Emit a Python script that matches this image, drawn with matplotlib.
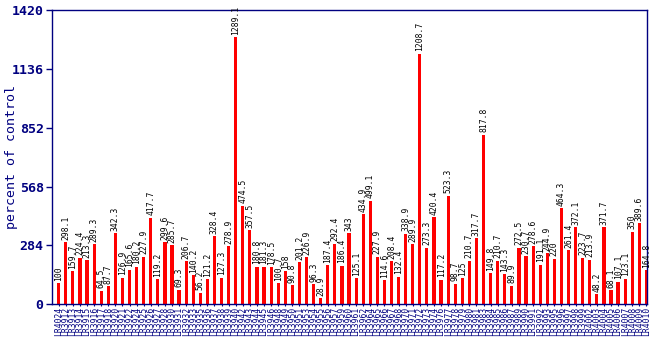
import matplotlib
matplotlib.use("Agg")
import matplotlib.pyplot as plt

values = [100, 298.1, 159.7, 224.4, 213.3, 289.3, 64.5, 87.7, 342.3, 126.9,
          165.6, 180.2, 227.9, 417.7, 119.2, 299.6, 285.7, 69.3, 206.7, 140.2,
          56.2, 121.2, 328.4, 127.3, 278.9, 1289.1,
          474.5, 357.5, 180.8, 181.3, 178.5, 100.7, 158, 90.8, 201.2, 226.9,
          96.3, 28.9, 187.4, 292.4, 186.4, 343, 125.1, 434.9, 499.1, 227.9,
          114.6, 208.4, 132.4, 338.9, 289.9, 1208.7, 273.3, 420.4,
          117.2, 523.3, 98.7, 125, 210.7, 317.7, 817.8, 149.8, 210.7, 143.3,
          89.9, 272.5, 230.7, 278.6, 191.1, 244.9, 220, 464.3, 261.4, 372.1,
          223.7, 213.9, 48.2, 371.7, 68.1, 107.1, 123.1, 350, 389.6, 164.8]

value_texts = ["100", "298.1", "159.7", "224.4", "213.3", "289.3", "64.5", "87.7", "342.3", "126.9",
               "165.6", "180.2", "227.9", "417.7", "119.2", "299.6", "285.7", "69.3", "206.7", "140.2",
               "56.2", "121.2", "328.4", "127.3", "278.9", "1289.1",
               "474.5", "357.5", "180.8", "181.3", "178.5", "100.7", "158", "90.8", "201.2", "226.9",
               "96.3", "28.9", "187.4", "292.4", "186.4", "343", "125.1", "434.9", "499.1", "227.9",
               "114.6", "208.4", "132.4", "338.9", "289.9", "1208.7", "273.3", "420.4",
               "117.2", "523.3", "98.7", "125", "210.7", "317.7", "817.8", "149.8", "210.7", "143.3",
               "89.9", "272.5", "230.7", "278.6", "191.1", "244.9", "220", "464.3", "261.4", "372.1",
               "223.7", "213.9", "48.2", "371.7", "68.1", "107.1", "123.1", "350", "389.6", "164.8"]

skipped = [3923, 3929, 3934, 3941, 3947, 3952, 3958, 3963, 3969, 3975, 3982, 3988, 3994]
categories = (["LR4024"]
              + ["LR%d" % n for n in range(3912, 3919)]
              + ["LR%d" % n for n in range(3920, 4000) if n not in skipped]
              + ["LR%d" % n for n in range(4002, 4011)])

y_ticks = [0, 284, 568, 852, 1136, 1420]

navy = "#000080"
mono = "DejaVu Sans Mono"

fig = plt.figure(figsize=(6.5, 3.5), dpi=100)
ax = fig.add_axes([0.080, 0.131, 0.915, 0.840])

x = list(range(len(values)))
ax.bar(x, values, width=0.45, color="#ff0000", zorder=2)

for xi, v, t in zip(x, values, value_texts):
    ax.text(xi, v + 12, t, rotation=90, ha="center", va="bottom",
            fontsize=5.8, family=mono, color="black")

ax.set_xlim(-0.95, len(values) - 0.95)
ax.set_ylim(0, 1420)
ax.set_yticks(y_ticks)
ax.set_yticklabels([str(t) for t in y_ticks], fontsize=9.5, fontweight="bold",
                   family=mono, color=navy)
ax.set_xticks(x)
ax.set_xticklabels(categories, rotation=90, fontsize=5.8, family=mono, color=navy)
ax.tick_params(axis="x", length=1.5, pad=0.5, color=navy)
ax.tick_params(axis="y", length=4, color=navy, width=1, pad=2)
for s in ax.spines.values():
    s.set_color(navy)
    s.set_linewidth(1)

ax.set_ylabel("percent of control", family=mono, fontsize=9.5, color=navy)
ax.yaxis.set_label_coords(-0.058, 0.5)

fig.savefig("out.png", dpi=100)
